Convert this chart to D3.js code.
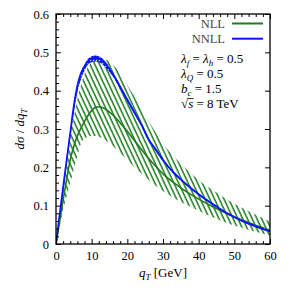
<!DOCTYPE html>
<html>
<head>
<meta charset="utf-8">
<script src="https://cdn.jsdelivr.net/npm/d3@7"></script>
<style>
  body { margin: 0; background: #fff; }
</style>
</head>
<body>
<div id="chart"></div>
<script>
// q_T grid (GeV) shared by every series
const qT = [0, 1, 2, 3, 4, 5, 6, 7, 8, 9, 10, 11, 12, 13, 14, 15, 16, 18, 20, 22, 24, 26, 28, 30, 33, 36, 40, 44, 48, 52, 56, 60];

// NNLL central + its (narrow) band
const nnllCentral = [0, 0.075, 0.148, 0.22, 0.29, 0.36, 0.413, 0.445, 0.463, 0.477, 0.485, 0.487, 0.485, 0.479, 0.469, 0.456, 0.442, 0.41, 0.376, 0.343, 0.31, 0.272, 0.246, 0.219, 0.186, 0.16, 0.13, 0.104, 0.08, 0.061, 0.046, 0.033];
const nnllUpper = [0, 0.077, 0.151, 0.224, 0.294, 0.364, 0.417, 0.449, 0.468, 0.483, 0.49, 0.492, 0.49, 0.484, 0.474, 0.461, 0.446, 0.414, 0.38, 0.346, 0.313, 0.275, 0.249, 0.222, 0.189, 0.162, 0.132, 0.106, 0.082, 0.063, 0.048, 0.035];
const nnllLower = [0, 0.07, 0.14, 0.21, 0.278, 0.343, 0.396, 0.43, 0.452, 0.468, 0.474, 0.476, 0.474, 0.469, 0.46, 0.449, 0.436, 0.404, 0.371, 0.339, 0.306, 0.268, 0.242, 0.215, 0.183, 0.157, 0.127, 0.101, 0.078, 0.059, 0.044, 0.031];

// NLL central + band
const nllCentral = [0, 0.058, 0.115, 0.17, 0.22, 0.255, 0.282, 0.302, 0.32, 0.336, 0.348, 0.356, 0.358, 0.356, 0.351, 0.344, 0.336, 0.316, 0.294, 0.27, 0.246, 0.223, 0.202, 0.183, 0.16, 0.14, 0.117, 0.097, 0.079, 0.063, 0.049, 0.036];
const nllUpper = [0, 0.07, 0.14, 0.207, 0.272, 0.33, 0.378, 0.415, 0.443, 0.462, 0.474, 0.481, 0.485, 0.484, 0.481, 0.475, 0.467, 0.445, 0.415, 0.384, 0.352, 0.32, 0.29, 0.262, 0.228, 0.2, 0.167, 0.14, 0.116, 0.095, 0.076, 0.058];
const nllLower = [0, 0.044, 0.088, 0.125, 0.16, 0.195, 0.23, 0.262, 0.275, 0.28, 0.282, 0.282, 0.28, 0.276, 0.27, 0.263, 0.255, 0.238, 0.22, 0.2, 0.183, 0.167, 0.152, 0.138, 0.12, 0.105, 0.087, 0.07, 0.055, 0.043, 0.032, 0.022];

const xTicks = [0, 10, 20, 30, 40, 50, 60];
const yTicks = [0, 0.1, 0.2, 0.3, 0.4, 0.5, 0.6];
const legendItems = [
  { name: 'NLL', color: '#1e7b1e' },
  { name: 'NNLL', color: '#0a14ff' },
];

const FONT = '"Liberation Serif", "DejaVu Serif", serif';
const width = 291;
const height = 291;
const margin = { top: 14, right: 21, bottom: 47, left: 56 };
const innerW = width - margin.left - margin.right;
const innerH = height - margin.top - margin.bottom;

const x = d3.scaleLinear().domain([0, 60]).range([0, innerW]);
const y = d3.scaleLinear().domain([0, 0.6]).range([innerH, 0]);

const svg = d3.select('#chart')
  .append('svg')
  .attr('width', width)
  .attr('height', height)
  .attr('font-family', FONT);

const defs = svg.append('defs');

// green diagonal hatching for the NLL band
const hatch = defs.append('pattern')
  .attr('id', 'hatch')
  .attr('patternUnits', 'userSpaceOnUse')
  .attr('width', 4.3)
  .attr('height', 10)
  .attr('patternTransform', 'rotate(-25)');
hatch.append('line')
  .attr('x1', 1).attr('y1', 0)
  .attr('x2', 1).attr('y2', 10)
  .attr('stroke', legendItems[0].color)
  .attr('stroke-width', 1.5);

// dotted blue fill for the NNLL band
const dots = defs.append('pattern')
  .attr('id', 'dots')
  .attr('patternUnits', 'userSpaceOnUse')
  .attr('width', 3)
  .attr('height', 3);
dots.append('rect').attr('width', 3).attr('height', 3).attr('fill', legendItems[1].color);
dots.append('circle').attr('cx', 1.5).attr('cy', 1.5).attr('r', 0.8).attr('fill', '#dfe3ff');

defs.append('clipPath').attr('id', 'plotClip')
  .append('rect').attr('width', innerW).attr('height', innerH);

const g = svg.append('g')
  .attr('transform', `translate(${margin.left}, ${margin.top})`);

const plot = g.append('g').attr('clip-path', 'url(#plotClip)');

const band = (lo, hi) => d3.area()
  .x((d, i) => x(qT[i]))
  .y0((d, i) => y(lo[i]))
  .y1((d, i) => y(hi[i]))
  .curve(d3.curveMonotoneX);

const line = (vals) => d3.line()
  .x((d, i) => x(qT[i]))
  .y((d, i) => y(vals[i]))
  .curve(d3.curveMonotoneX);

plot.append('path')
  .datum(qT)
  .attr('d', band(nllLower, nllUpper))
  .attr('fill', 'url(#hatch)');

plot.append('path')
  .datum(qT)
  .attr('d', line(nllCentral))
  .attr('fill', 'none')
  .attr('stroke', legendItems[0].color)
  .attr('stroke-width', 1.6);

plot.append('path')
  .datum(qT)
  .attr('d', band(nnllLower, nnllUpper))
  .attr('fill', 'url(#dots)');

plot.append('path')
  .datum(qT)
  .attr('d', line(nnllCentral))
  .attr('fill', 'none')
  .attr('stroke', legendItems[1].color)
  .attr('stroke-width', 1.8);

// axes, ticks pointing inward
const minorX = d3.range(0, 61, 2).filter((v) => v % 10 !== 0);
const minorY = d3.range(0, 0.601, 0.02).filter((v) => Math.abs(v * 10 - Math.round(v * 10)) > 1e-6);

const styleAxis = (sel) => {
  sel.attr('font-family', FONT);
  sel.select('.domain').remove();
  sel.selectAll('.tick line').attr('stroke', '#000').attr('stroke-width', 1);
  sel.selectAll('.tick text').attr('fill', '#000').attr('font-size', 12.5);
};

g.append('g')
  .attr('transform', `translate(0, ${innerH})`)
  .call(d3.axisBottom(x).tickValues(xTicks).tickSize(-5).tickPadding(7))
  .call(styleAxis);
g.append('g')
  .attr('transform', `translate(0, ${innerH})`)
  .call(d3.axisBottom(x).tickValues(minorX).tickSize(-3).tickFormat(''))
  .call(styleAxis);
g.append('g')
  .call(d3.axisTop(x).tickValues(xTicks).tickSize(-5).tickFormat(''))
  .call(styleAxis);
g.append('g')
  .call(d3.axisTop(x).tickValues(minorX).tickSize(-3).tickFormat(''))
  .call(styleAxis);

g.append('g')
  .call(d3.axisLeft(y).tickValues(yTicks).tickSize(-5).tickPadding(7)
    .tickFormat((d) => (d === 0 ? '0' : d3.format('.1f')(d))))
  .call(styleAxis);
g.append('g')
  .call(d3.axisLeft(y).tickValues(minorY).tickSize(-3).tickFormat(''))
  .call(styleAxis);
g.append('g')
  .attr('transform', `translate(${innerW}, 0)`)
  .call(d3.axisRight(y).tickValues(yTicks).tickSize(-5).tickFormat(''))
  .call(styleAxis);

g.append('rect')
  .attr('width', innerW)
  .attr('height', innerH)
  .attr('fill', 'none')
  .attr('stroke', '#000')
  .attr('stroke-width', 1.3);

// axis titles
const xTitle = svg.append('text')
  .attr('x', margin.left + innerW / 2)
  .attr('y', 277)
  .attr('text-anchor', 'middle')
  .attr('font-size', 13);
xTitle.append('tspan').attr('font-style', 'italic').text('q');
xTitle.append('tspan').attr('font-style', 'italic').attr('font-size', 9).attr('dy', 2.5).text('T');
xTitle.append('tspan').attr('dy', -2.5).text(' [GeV]');

const yTitle = svg.append('text')
  .attr('transform', `translate(24, ${margin.top + innerH / 2}) rotate(-90)`)
  .attr('text-anchor', 'middle')
  .attr('font-size', 13);
yTitle.append('tspan').attr('font-style', 'italic').text('dσ');
yTitle.append('tspan').text(' / ');
yTitle.append('tspan').attr('font-style', 'italic').text('dq');
yTitle.append('tspan').attr('font-style', 'italic').attr('font-size', 9).attr('dy', 2.5).text('T');

// legend
const legend = svg.append('g');
legendItems.forEach((item, i) => {
  const ly = 23.5 + i * 15.2;
  legend.append('text')
    .attr('x', 225)
    .attr('y', ly + 4)
    .attr('text-anchor', 'end')
    .attr('font-size', 12.5)
    .attr('fill', '#444')
    .text(item.name);
  legend.append('line')
    .attr('x1', 232).attr('x2', 263)
    .attr('y1', ly).attr('y2', ly)
    .attr('stroke', item.color)
    .attr('stroke-width', 2);
});

// parameter notes
const notes = svg.append('g').attr('font-size', 13);
const n1 = notes.append('text').attr('x', 181).attr('y', 63);
n1.append('tspan').attr('font-style', 'italic').text('λ');
n1.append('tspan').attr('font-style', 'italic').attr('font-size', 9).attr('dy', 2.5).text('f');
n1.append('tspan').attr('dy', -2.5).text(' = ');
n1.append('tspan').attr('font-style', 'italic').text('λ');
n1.append('tspan').attr('font-style', 'italic').attr('font-size', 9).attr('dy', 2.5).text('h');
n1.append('tspan').attr('dy', -2.5).text(' = 0.5');

const n2 = notes.append('text').attr('x', 181).attr('y', 78);
n2.append('tspan').attr('font-style', 'italic').text('λ');
n2.append('tspan').attr('font-style', 'italic').attr('font-size', 9).attr('dy', 2.5).text('Q');
n2.append('tspan').attr('dy', -2.5).text(' = 0.5');

const n3 = notes.append('text').attr('x', 181).attr('y', 93);
n3.append('tspan').attr('font-style', 'italic').text('b');
n3.append('tspan').attr('font-style', 'italic').attr('font-size', 9).attr('dy', 2.5).text('c');
n3.append('tspan').attr('dy', -2.5).text(' = 1.5');

const n4 = notes.append('text').attr('x', 181).attr('y', 108);
n4.append('tspan').text('√');
const sSpan = n4.append('tspan').attr('font-style', 'italic').text('s');
n4.append('tspan').text(' = 8  TeV');

// radical bar over s
const sNode = sSpan.node();
const sx0 = sNode.getStartPositionOfChar(0).x;
const sx1 = sNode.getEndPositionOfChar(0).x;
notes.append('line')
  .attr('x1', sx0 - 0.5).attr('x2', sx1 + 0.5)
  .attr('y1', 98.5).attr('y2', 98.5)
  .attr('stroke', '#000')
  .attr('stroke-width', 0.8);
</script>
</body>
</html>
